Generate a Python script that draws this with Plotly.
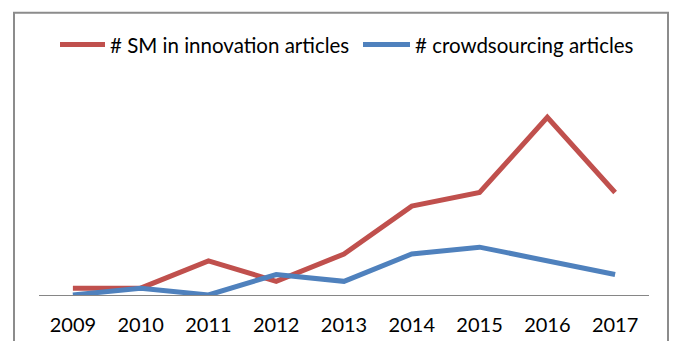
import plotly.graph_objects as go

years = ["2009", "2010", "2011", "2012", "2013", "2014", "2015", "2016", "2017"]
sm_innovation = [1, 1, 5, 2, 6, 13, 15, 26, 15]
crowdsourcing = [0, 1, 0, 3, 2, 6, 7, 5, 3]
series_names = ["# SM in innovation articles", "# crowdsourcing articles"]
series_colors = ["#C0504D", "#4F81BD"]

W, H = 676, 341
L, R, T, B = 39, 27, 89.5, 46
pw = W - L - R
ph = H - T - B

def px_x(x):
    return (x - L) / pw

def px_y(y):
    return (H - B - y) / ph

FONT = "Lato, 'Open Sans', sans-serif"

fig = go.Figure()
for name, vals, col in zip(series_names, [sm_innovation, crowdsourcing], series_colors):
    fig.add_trace(go.Scatter(x=years, y=vals, mode="lines", name=name,
                             line=dict(color=col, width=5), showlegend=False))

# custom legend (line sample + label)
legend_y = 44
legend_items = [(60, 105, 108), (363, 410, 413)]
shapes = [dict(type="rect", xref="paper", yref="paper",
               x0=px_x(14), x1=px_x(668), y0=px_y(350), y1=px_y(12),
               line=dict(color="#8C8C8C", width=2), fillcolor="rgba(0,0,0,0)",
               layer="below")]
annotations = []
for (x0, x1, tx), name, col in zip(legend_items, series_names, series_colors):
    shapes.append(dict(type="line", xref="paper", yref="paper",
                       x0=px_x(x0), x1=px_x(x1), y0=px_y(legend_y), y1=px_y(legend_y),
                       line=dict(color=col, width=5)))
    annotations.append(dict(text=name, xref="paper", yref="paper",
                            x=px_x(tx), y=px_y(legend_y), xanchor="left", yanchor="middle",
                            showarrow=False,
                            font=dict(family=FONT, size=20.5, color="black")))

fig.update_layout(
    width=W, height=H,
    margin=dict(l=L, r=R, t=T, b=B, pad=0, autoexpand=False),
    paper_bgcolor="white", plot_bgcolor="white",
    font=dict(family=FONT, size=20, color="black"),
    showlegend=False,
    xaxis=dict(type="category", range=[-0.5, 8.5], showgrid=False,
               showline=True, linecolor="#868686", linewidth=1,
               ticks="", ticklabelstandoff=12, automargin=False,
               tickfont=dict(family=FONT, size=20, color="black"),
               zeroline=False, fixedrange=True),
    yaxis=dict(range=[0, 30], showgrid=False, showticklabels=False,
               showline=False, zeroline=False, ticks="", fixedrange=True,
               automargin=False),
    shapes=shapes,
    annotations=annotations,
)

fig.write_html("out.html")
